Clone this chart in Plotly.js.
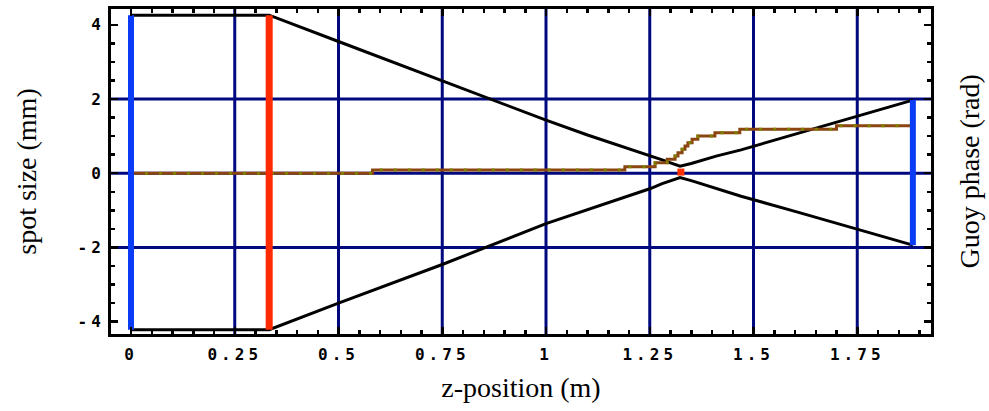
<!DOCTYPE html>
<html>
<head>
<meta charset="utf-8">
<script src="https://cdn.plot.ly/plotly-3.0.1.min.js"></script>
<style>
  html, body { margin: 0; padding: 0; background: #fff; }
  #chart { width: 989px; height: 411px; }
</style>
</head>
<body>
<div id="chart"></div>
<script>
// ---- data ----
const zEnv     = [0, 0.333, 0.5, 0.75, 1.0, 1.1, 1.2, 1.25, 1.28, 1.30, 1.323, 1.35, 1.38, 1.41, 1.47, 1.6, 1.75, 1.884];
const upperEnv = [4.26, 4.26, 3.55, 2.49, 1.43, 1.03, 0.66, 0.49, 0.36, 0.28, 0.19, 0.26, 0.36, 0.46, 0.63, 1.05, 1.52, 1.97];
const lowerEnv = [-4.22, -4.22, -3.5, -2.46, -1.36, -0.98, -0.6, -0.42, -0.28, -0.2, -0.12, -0.2, -0.3, -0.42, -0.62, -1.03, -1.5, -1.94];

const zPhase = [0, 0.582, 1.190, 1.263, 1.292, 1.311, 1.318, 1.328, 1.335, 1.342, 1.352, 1.366, 1.407, 1.467, 1.700, 1.884];
const phase  = [0, 0.086, 0.175, 0.283, 0.375, 0.464, 0.553, 0.644, 0.733, 0.822, 0.914, 1.003, 1.092, 1.183, 1.28, 1.28];

// optical elements: position and extent
const sourceZ = [0, 0];         const sourceW = [-4.22, 4.26];
const lensZ   = [0.333, 0.333]; const lensW   = [-4.22, 4.26];
const screenZ = [1.884, 1.884]; const screenW = [-1.94, 1.97];
const focusZ  = [1.325];        const focusW  = [0.03];

// ticks and grid
const xTickVals = [0, 0.25, 0.5, 0.75, 1, 1.25, 1.5, 1.75];
const xTickText = ['0', '0.25', '0.5', '0.75', '1', '1.25', '1.5', '1.75'];
const yTickVals = [-4, -2, 0, 2, 4];
const yTickText = ['-4', '-2', '0', '2', '4'];
const xGrid = [0.25, 0.5, 0.75, 1, 1.25, 1.5, 1.75];
const yGrid = [-2, 0, 2];

const NAVY = '#00087e';
const shapes = [];
xGrid.forEach(v => shapes.push({type:'line', layer:'below', xref:'x', yref:'paper', x0:v, x1:v, y0:0, y1:1, line:{color:NAVY, width:3}}));
yGrid.forEach(v => shapes.push({type:'line', layer:'below', xref:'paper', yref:'y', x0:0, x1:1, y0:v, y1:v, line:{color:NAVY, width:3}}));

const traces = [
  {x: zEnv, y: upperEnv, mode:'lines', line:{color:'#000000', width:3}, hoverinfo:'skip'},
  {x: zEnv, y: lowerEnv, mode:'lines', line:{color:'#000000', width:3}, hoverinfo:'skip'},
  {x: zPhase, y: phase, mode:'lines', line:{color:'#8a4510', width:3, shape:'hv'}, hoverinfo:'skip'},
  {x: zPhase, y: phase, mode:'lines', line:{color:'#7f8000', width:3, shape:'hv', dash:'3px,11px'}, hoverinfo:'skip'},
  {x: sourceZ, y: sourceW, mode:'lines', line:{color:'#0a3cf5', width:6}, hoverinfo:'skip'},
  {x: lensZ, y: lensW, mode:'lines', line:{color:'#ff2a00', width:7}, hoverinfo:'skip'},
  {x: screenZ, y: screenW, mode:'lines', line:{color:'#0a3cf5', width:6}, hoverinfo:'skip'},
  {x: focusZ, y: focusW, mode:'markers', marker:{symbol:'square', size:7, color:'#ff3000', line:{width:0}}, hoverinfo:'skip'}
];

const tickFont = {family:'DejaVu Sans Mono', size:16, color:'#000', weight:'bold'};
const titleFont = {family:'Liberation Serif', size:28, color:'#000'};

const layout = {
  width: 989, height: 411,
  margin: {l:111, r:58, t:9, b:77, pad:0},
  paper_bgcolor:'#fff', plot_bgcolor:'#fff',
  showlegend:false,
  shapes: shapes,
  xaxis: {
    range:[-0.0482, 1.9277], tickmode:'array', tickvals:xTickVals, ticktext:xTickText,
    ticks:'inside', ticklen:7, tickwidth:2.5, tickcolor:'#000',
    minor:{ticks:'inside', tick0:0, dtick:0.05, ticklen:4, tickwidth:2.5, tickcolor:'#000', showgrid:false},
    showline:true, linecolor:'#000', linewidth:3, mirror:'allticks',
    showgrid:false, zeroline:false, tickfont:tickFont, ticklabelstandoff:4,
    title:{text:'z-position (m)', font:titleFont, standoff:15}, automargin:false
  },
  yaxis: {
    range:[-4.334, 4.426], tickmode:'array', tickvals:yTickVals, ticktext:yTickText,
    ticks:'inside', ticklen:7, tickwidth:2.5, tickcolor:'#000',
    minor:{ticks:'inside', tick0:0, dtick:0.5, ticklen:4, tickwidth:2.5, tickcolor:'#000', showgrid:false},
    showline:true, linecolor:'#000', linewidth:3, mirror:'allticks',
    showgrid:false, zeroline:false, tickfont:tickFont, ticklabelstandoff:0,
    title:{text:'spot size (mm)', font:titleFont, standoff:41}, automargin:false
  },
  annotations: [
    {text:'Guoy phase (rad)', xref:'paper', yref:'paper', x:1, y:0.5, xanchor:'center', yanchor:'middle',
     xshift:38, textangle:-90, showarrow:false, font:titleFont}
  ]
};

Plotly.newPlot('chart', traces, layout, {staticPlot:true, displayModeBar:false}).then(() => {
  document.querySelectorAll('.xtick text, .ytick text').forEach(t => { t.style.letterSpacing = '4px'; });
});
</script>
</body>
</html>
